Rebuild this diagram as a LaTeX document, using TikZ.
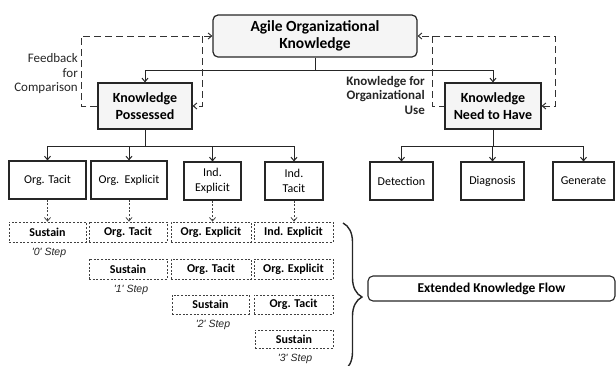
\documentclass[tikz,border=0pt]{standalone}
\usepackage{fontspec}
\setmainfont{Carlito}
\newfontfamily\stepfont{Liberation Sans}
\usetikzlibrary{arrows.meta,decorations.pathreplacing}

\begin{document}
\begin{tikzpicture}[x=1pt,y=-1pt,
  every node/.style={inner sep=1pt, align=center},
  tip/.style={-{Straight Barb[length=3.5pt,width=6pt]}},
  conn/.style={draw=black!85, line width=1pt},
  fb/.style={draw=black!80, line width=1pt, dash pattern=on 7pt off 4pt},
  dots/.style={draw=black!75, line width=0.8pt, dash pattern=on 2pt off 1.6pt},
  topbox/.style={draw=black!85, line width=1.2pt, fill=black!4, rounded corners=5pt,
    minimum width=204pt, minimum height=42pt, font=\fontsize{15.5}{17}\selectfont\bfseries},
  kbox/.style={draw=black!85, line width=1.2pt, fill=black!4,
    minimum height=46pt, font=\fontsize{14}{16.5}\selectfont\bfseries},
  cbox/.style={draw=black!85, line width=1.1pt, minimum height=38pt,
    font=\fontsize{12}{14.5}\selectfont},
  rbox/.style={draw=black!75, line width=0.8pt, dash pattern=on 2pt off 1.6pt,
    minimum height=20pt, inner sep=0pt, font=\fontsize{12}{13}\selectfont\bfseries},
  steplbl/.style={font=\stepfont\fontsize{10.5}{12}\selectfont\itshape, text=black!85},
  lbl/.style={font=\fontsize{13}{14.5}\selectfont, text=black!85, align=right},
]
\useasboundingbox (0,0) rectangle (616,365);

% main boxes
\node[topbox] (top) at (315,36) {Agile Organizational\\Knowledge};
\node[kbox, minimum width=94pt] (pos) at (145,106) {Knowledge\\Possessed};
\node[kbox, minimum width=96pt] (need) at (493,106) {Knowledge\\Need to Have};

% knowledge kinds
\node[cbox, minimum width=77pt] (ot) at (47.5,180) {Org. Tacit};
\node[cbox, minimum width=76pt] (oe) at (129,180) {Org.~~Explicit};
\node[cbox, minimum width=57pt] (ie) at (212.5,181) {Ind.\\Explicit};
\node[cbox, minimum width=58pt] (it) at (294,181) {Ind.\\Tacit};

\node[cbox, minimum width=63pt] (det) at (401.5,181) {Detection};
\node[cbox, minimum width=63pt] (dia) at (492.5,181) {Diagnosis};
\node[cbox, minimum width=61pt] (gen) at (583.5,181) {Generate};

% step rows
\node[rbox, minimum width=77pt] (s0a) at (47.5,232) {Sustain};
\node[rbox, minimum width=78pt] (s0b) at (128,232) {Org. Tacit};
\node[rbox, minimum width=80pt] (s0c) at (211,232) {Org. Explicit};
\node[rbox, minimum width=79pt] (s0d) at (293.5,232) {Ind. Explicit};

\node[rbox, minimum width=78pt] (s1b) at (128,269) {Sustain};
\node[rbox, minimum width=80pt] (s1c) at (211,269) {Org. Tacit};
\node[rbox, minimum width=79pt] (s1d) at (293.5,269) {Org. Explicit};

\node[rbox, minimum width=77pt, minimum height=19pt] (s2c) at (210.5,304.5) {Sustain};
\node[rbox, minimum width=79pt, minimum height=19pt] (s2d) at (293.5,304.5) {Org. Tacit};

\node[rbox, minimum width=78pt, minimum height=18pt] (s3d) at (294,339) {Sustain};

\node[steplbl] (st0) at (49,253) {'0' Step};
\node[steplbl] (st1) at (131,290) {'1' Step};
\node[steplbl] (st2) at (213,325) {'2' Step};
\node[steplbl] (st3) at (295,359) {'3' Step};

% extended flow
\node[draw=black!85, line width=1.1pt, rounded corners=5pt, minimum width=247pt,
  minimum height=25pt, font=\fontsize{13.5}{15}\selectfont\bfseries] (ext) at (491.5,288.5)
  {Extended Knowledge Flow};
\coordinate (brtop) at (343,223);
\coordinate (brbot) at (343,371);
\draw[draw=black!85, line width=1.4pt, decorate,
  decoration={brace, amplitude=19pt, aspect=0.5}] (brtop) -- (brbot);

% side labels
\node[lbl, anchor=east] (fbl) at (79,74) {Feedback\\for\\Comparison};
\node[lbl, anchor=east, font=\fontsize{13}{14.5}\selectfont\bfseries] (kul) at (426,95)
  {Knowledge for\\Organizational\\Use};

% tree connectors
\draw[conn, tip] (top.south) -- ++(0,13) -| (pos.north);
\draw[conn, tip] (top.south) -- ++(0,13) -| (need.north);
\foreach \c in {ot,oe,ie,it}
  \draw[conn, tip] (pos.south) -- ++(0,17) -| (\c.north);
\foreach \c in {det,dia,gen}
  \draw[conn, tip] (need.south) -- ++(0,17) -| (\c.north);

% kinds to step 0
\foreach \a/\b in {ot/s0a,oe/s0b,ie/s0c,it/s0d}
  \draw[dots, tip] (\a.south) -- (\a.south |- \b.north);

% feedback loops
\coordinate (li) at (202,36);
\coordinate (ri) at (432,36);
\draw[fb, tip] (pos.west) -- ++(-16,0) |- (top.west);
\draw[fb, tip] (li) |- (pos.east);
\draw[fb, {Straight Barb[length=3.5pt,width=6pt]}-{Straight Barb[length=3.5pt,width=6pt]}]
  (need.east) -- ++(14,0) |- (top.east);
\draw[fb] (ri) |- (need.west);
\end{tikzpicture}
\end{document}
